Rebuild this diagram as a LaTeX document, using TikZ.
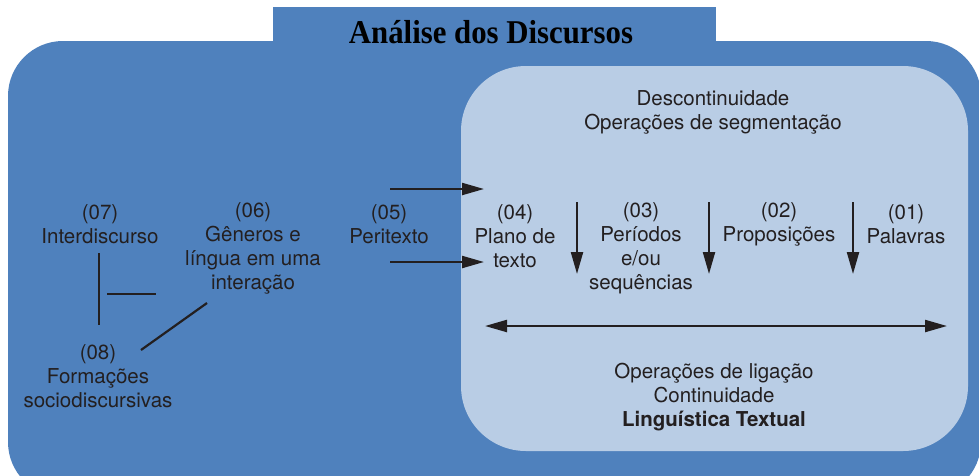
\documentclass[tikz,border=0pt]{standalone}
\usepackage{fontspec}
\setmainfont{TeX Gyre Heros}
\newfontfamily\titlefont{Liberation Serif}
\usetikzlibrary{arrows.meta}
\definecolor{outerblue}{RGB}{79,129,189}
\definecolor{innerblue}{RGB}{185,205,229}
\definecolor{ink}{RGB}{35,31,32}
\tikzset{
  lbl/.style={align=center, inner sep=0pt, font=\fontsize{20.5}{24}\selectfont, text=ink},
  conn/.style={draw=ink, line width=2.2pt},
  arr/.style={conn, -{Triangle[length=22pt,width=12pt]}},
  darr/.style={conn, {Triangle[length=22pt,width=12pt]}-{Triangle[length=22pt,width=12pt]}},
}
\begin{document}
\begin{tikzpicture}[x=1pt,y=-1pt]
\useasboundingbox (0,0) rectangle (979,475);
\clip (0,0) rectangle (979,475);
\fill[white] (0,0) rectangle (979,475);
% outer shape
\fill[outerblue, rounded corners=55pt] (8,41) rectangle (981,497);
\fill[outerblue] (273,7) rectangle (716,45);
\node[font=\titlefont\bfseries\fontsize{30.8}{34}\selectfont, text=black, inner sep=0pt, yscale=1.08] (title) at (491,32) {Análise dos Discursos};
% inner box
\fill[innerblue, rounded corners=65pt] (461,66) rectangle (968,451);
% labels
\node[lbl] (top) at (713,112) {Descontinuidade\\Operações de segmentação};
\node[lbl] (n07) at (100,224.5) {(07)\\Interdiscurso};
\node[lbl] (n06) at (253,248) {(06)\\Gêneros e\\língua em uma\\interação};
\node[lbl] (n05) at (389,224) {(05)\\Peritexto};
\node[lbl] (n04) at (515,236) {(04)\\Plano de\\texto};
\node[lbl] (n03) at (641,248) {(03)\\Períodos\\e/ou\\sequências};
\node[lbl] (n02) at (779,224) {(02)\\Proposições};
\node[lbl] (n01) at (906,224) {(01)\\Palavras};
\node[lbl] (n08) at (98,376) {(08)\\Formações\\sociodiscursivas};
\node[lbl] (bot) at (714,397) {Operações de ligação\\Continuidade\\\textbf{Linguística Textual}};
% connector end points
\coordinate (v1) at (99,253);
\coordinate (v2) at (99,325);
\coordinate (h1) at (107,294);
\coordinate (h2) at (156,294);
\coordinate (d1) at (207,303);
\coordinate (d2) at (141,350);
\coordinate (a1s) at (390,189);
\coordinate (a1e) at (484,189);
\coordinate (a2s) at (390,262);
\coordinate (a2e) at (484,262);
\coordinate (b1s) at (577,202);
\coordinate (b1e) at (577,274);
\coordinate (b2s) at (709,202);
\coordinate (b2e) at (709,274);
\coordinate (b3s) at (853,202);
\coordinate (b3e) at (853,274);
\coordinate (ls) at (485,326);
\coordinate (le) at (947,326);
% connectors
\draw[conn] (v1) -- (v2);
\draw[conn] (h1) -- (h2);
\draw[conn] (d1) -- (d2);
\draw[arr] (a1s) -- (a1e);
\draw[arr] (a2s) -- (a2e);
\draw[arr] (b1s) -- (b1e);
\draw[arr] (b2s) -- (b2e);
\draw[arr] (b3s) -- (b3e);
\draw[darr] (ls) -- (le);
\end{tikzpicture}
\end{document}
